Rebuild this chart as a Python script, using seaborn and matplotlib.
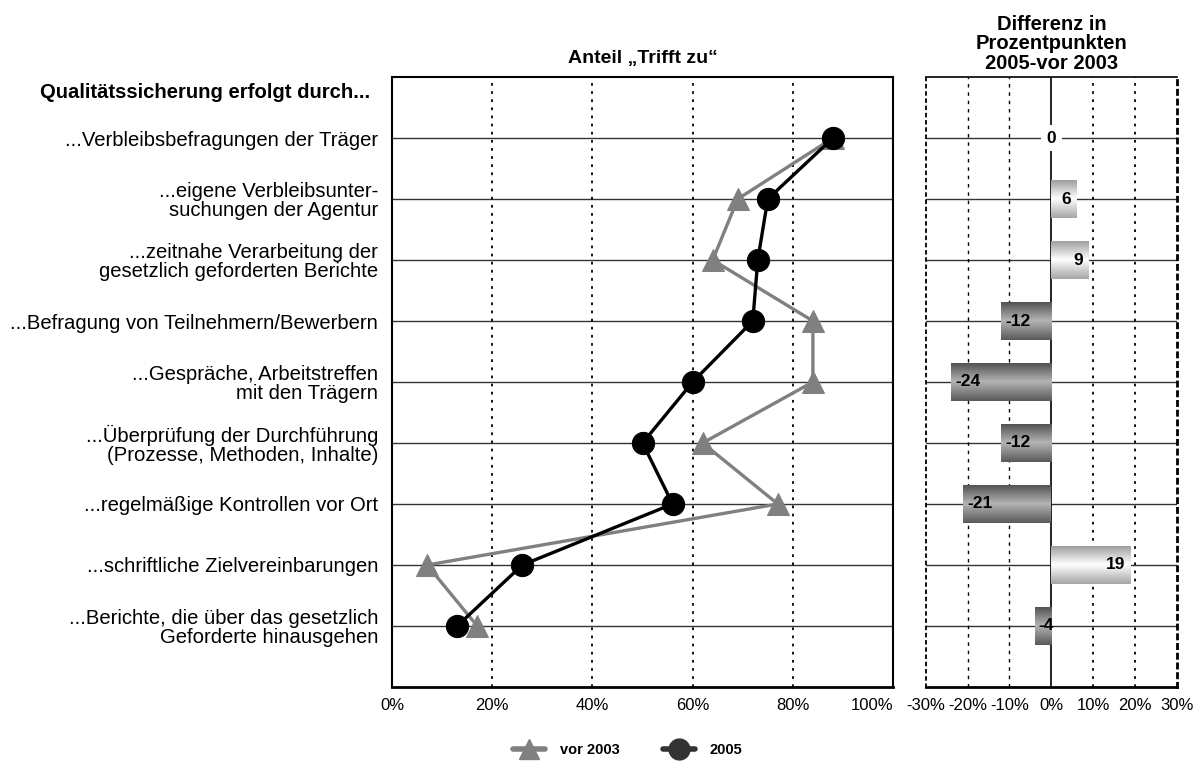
import numpy as np
import pandas as pd
import seaborn as sns
import matplotlib.pyplot as plt
from matplotlib.colors import LinearSegmentedColormap
from matplotlib.lines import Line2D

# --- data ---
kategorien = [
    "...Verbleibsbefragungen der Träger",
    "...eigene Verbleibsunter-\nsuchungen der Agentur",
    "...zeitnahe Verarbeitung der\ngesetzlich geforderten Berichte",
    "...Befragung von Teilnehmern/Bewerbern",
    "...Gespräche, Arbeitstreffen\nmit den Trägern",
    "...Überprüfung der Durchführung\n(Prozesse, Methoden, Inhalte)",
    "...regelmäßige Kontrollen vor Ort",
    "...schriftliche Zielvereinbarungen",
    "...Berichte, die über das gesetzlich\nGeforderte hinausgehen",
]
anteil_vor2003 = [88, 69, 64, 84, 84, 62, 77, 7, 17]
anteil_2005 = [88, 75, 73, 72, 60, 50, 56, 26, 13]
differenz = [0, 6, 9, -12, -24, -12, -21, 19, -4]

serien = ["vor 2003", "2005"]
left_ticks = [0, 20, 40, 60, 80, 100]
right_ticks = [-30, -20, -10, 0, 10, 20, 30]

sns.set_style("white")
plt.rcParams['font.family'] = ['Liberation Sans', 'DejaVu Sans']
plt.rcParams['text.color'] = 'black'
plt.rcParams['xtick.color'] = 'black'
plt.rcParams['ytick.color'] = 'black'
plt.rcParams['axes.labelcolor'] = 'black'

pos = np.arange(len(kategorien))
df = pd.DataFrame({
    "pos": np.concatenate([pos, pos]),
    "anteil": anteil_vor2003 + anteil_2005,
    "jahr": [serien[0]] * len(pos) + [serien[1]] * len(pos),
})
df_diff = pd.DataFrame({"kategorie": kategorien, "diff": differenz})

fig = plt.figure(figsize=(11.96, 7.64), dpi=100)
ax = fig.add_axes([0.3278, 0.1008, 0.4189, 0.7984])
ax2 = fig.add_axes([0.774, 0.1008, 0.2101, 0.7984])

# left panel: share "Trifft zu"
palette = {"vor 2003": "#808080", "2005": "black"}
sns.lineplot(data=df, x="anteil", y="pos", hue="jahr", style="jahr",
             hue_order=serien, style_order=serien,
             markers={"vor 2003": "^", "2005": "o"}, dashes=False,
             palette=palette, sort=False, estimator=None,
             linewidth=2.4, markersize=16, ax=ax, legend=False, zorder=3)
for ln in ax.lines:
    ln.set_markeredgecolor(ln.get_color())

ax.set_xlim(0, 100)
ax.set_ylim(len(kategorien), -1)
ax.set_xticks(left_ticks)
ax.set_xticklabels([f"{t}%" for t in left_ticks], fontsize=12)
# last label is pulled inside the frame like in the original
ax.get_xticklabels()[-1].set_horizontalalignment('right')
ax.set_yticks(pos)
ax.set_yticklabels(kategorien, fontsize=14.6, linespacing=1.0)
ax.tick_params(axis='both', length=0)
ax.tick_params(axis='y', pad=10)
ax.tick_params(axis='x', pad=8)
ax.set_xlabel("")
ax.set_ylabel("")
ax.grid(axis='y', color='#333333', linewidth=1.0)
for t in left_ticks[1:-1]:
    ax.axvline(t, color='black', linewidth=1.3, linestyle=(0, (1.5, 3)), zorder=1)
ax.set_axisbelow(True)
for s in ax.spines.values():
    s.set_color('black')
    s.set_linewidth(1.5)
ax.spines['bottom'].set_linewidth(2)
ax.set_title("Anteil \u201eTrifft zu\u201c", fontsize=14, fontweight='bold', pad=10)

fig.text(370 / 1196, 1 - 93 / 764, "Qualitätssicherung erfolgt durch...",
         ha='right', va='center', fontsize=14.6, fontweight='bold')

# right panel: difference in percentage points
sns.barplot(data=df_diff, x="diff", y="kategorie", orient='h', color='#999999',
            width=0.63, ax=ax2, zorder=2)
ax2.set_xlim(-30, 30)
ax2.set_ylim(len(kategorien), -1)
ax2.set_xticks(right_ticks)
ax2.set_xticklabels([f"{t}%" for t in right_ticks], fontsize=12)
ax2.set_yticks(pos)
ax2.set_yticklabels([])
ax2.tick_params(axis='both', length=0)
ax2.tick_params(axis='x', pad=8)
ax2.set_xlabel("")
ax2.set_ylabel("")
ax2.grid(axis='y', color='#333333', linewidth=1.0)
ax2.set_axisbelow(True)
for t in right_ticks[1:-1]:
    if t == 0:
        ax2.axvline(t, color='black', linewidth=1.2, zorder=1)
    else:
        ax2.axvline(t, color='black', linewidth=1.3 if t > 0 else 1.0,
                    linestyle=(0, (1.5, 3)) if t > 0 else (0, (2.5, 3.5)), zorder=1)
for s in ax2.spines.values():
    s.set_color('black')
ax2.spines['top'].set_linewidth(1.2)
ax2.spines['bottom'].set_linewidth(2)
ax2.spines['left'].set_linestyle((0, (1.5, 2.5)))
ax2.spines['left'].set_linewidth(1.3)
ax2.spines['right'].set_linestyle((0, (1.5, 2)))
ax2.spines['right'].set_linewidth(2)
ax2.set_title("Differenz in\nProzentpunkten\n2005-vor 2003", fontsize=14.5,
              fontweight='bold', pad=6, linespacing=1.02)

neg_cmap = LinearSegmentedColormap.from_list("neg", ["#4e4e4e", "#b4b4b4", "#5a5a5a"])
pos_cmap = LinearSegmentedColormap.from_list("pos", ["#9a9a9a", "#ffffff", "#a6a6a6"])
grad = np.linspace(0, 1, 64).reshape(-1, 1)
for patch, val in zip(ax2.patches, differenz):
    x0, y0 = patch.get_x(), patch.get_y()
    w, h = patch.get_width(), patch.get_height()
    patch.set_edgecolor('none')
    if w != 0:
        img = ax2.imshow(grad, cmap=pos_cmap if val > 0 else neg_cmap, aspect='auto',
                         extent=(x0, x0 + w, y0 + h, y0), zorder=2.5)
        img.set_clip_path(patch)
    yc = y0 + h / 2
    if val > 0:
        ax2.annotate(f"{val}", (x0 + w, yc), xytext=(-4, 0), textcoords='offset points',
                     ha='right', va='center', fontsize=12.5, fontweight='bold', zorder=4)
    elif val < 0:
        ax2.annotate(f"{val}", (min(x0, x0 + w), yc), xytext=(3, 0),
                     textcoords='offset points', ha='left', va='center',
                     fontsize=12.5, fontweight='bold', zorder=4)
    else:
        ax2.annotate(f"{val}", (0, yc), ha='center', va='center', fontsize=12.5,
                     fontweight='bold', zorder=4,
                     bbox=dict(facecolor='white', edgecolor='none', pad=4))
ax2.set_xlim(-30, 30)
ax2.set_ylim(len(kategorien), -1)

# legend
handles = [
    Line2D([], [], color=palette[serien[0]], marker='^', markersize=15, linewidth=4,
           markeredgecolor=palette[serien[0]]),
    Line2D([], [], color='#333333', marker='o', markersize=15, linewidth=4,
           markeredgecolor='#333333'),
]
fig.legend(handles, serien, loc='center', bbox_to_anchor=(0.525, 0.018), ncol=2,
           frameon=False, prop={'weight': 'bold', 'size': 10.5},
           handlelength=2.2, columnspacing=3, handletextpad=1.0)

fig.savefig("out.png", dpi=100)
